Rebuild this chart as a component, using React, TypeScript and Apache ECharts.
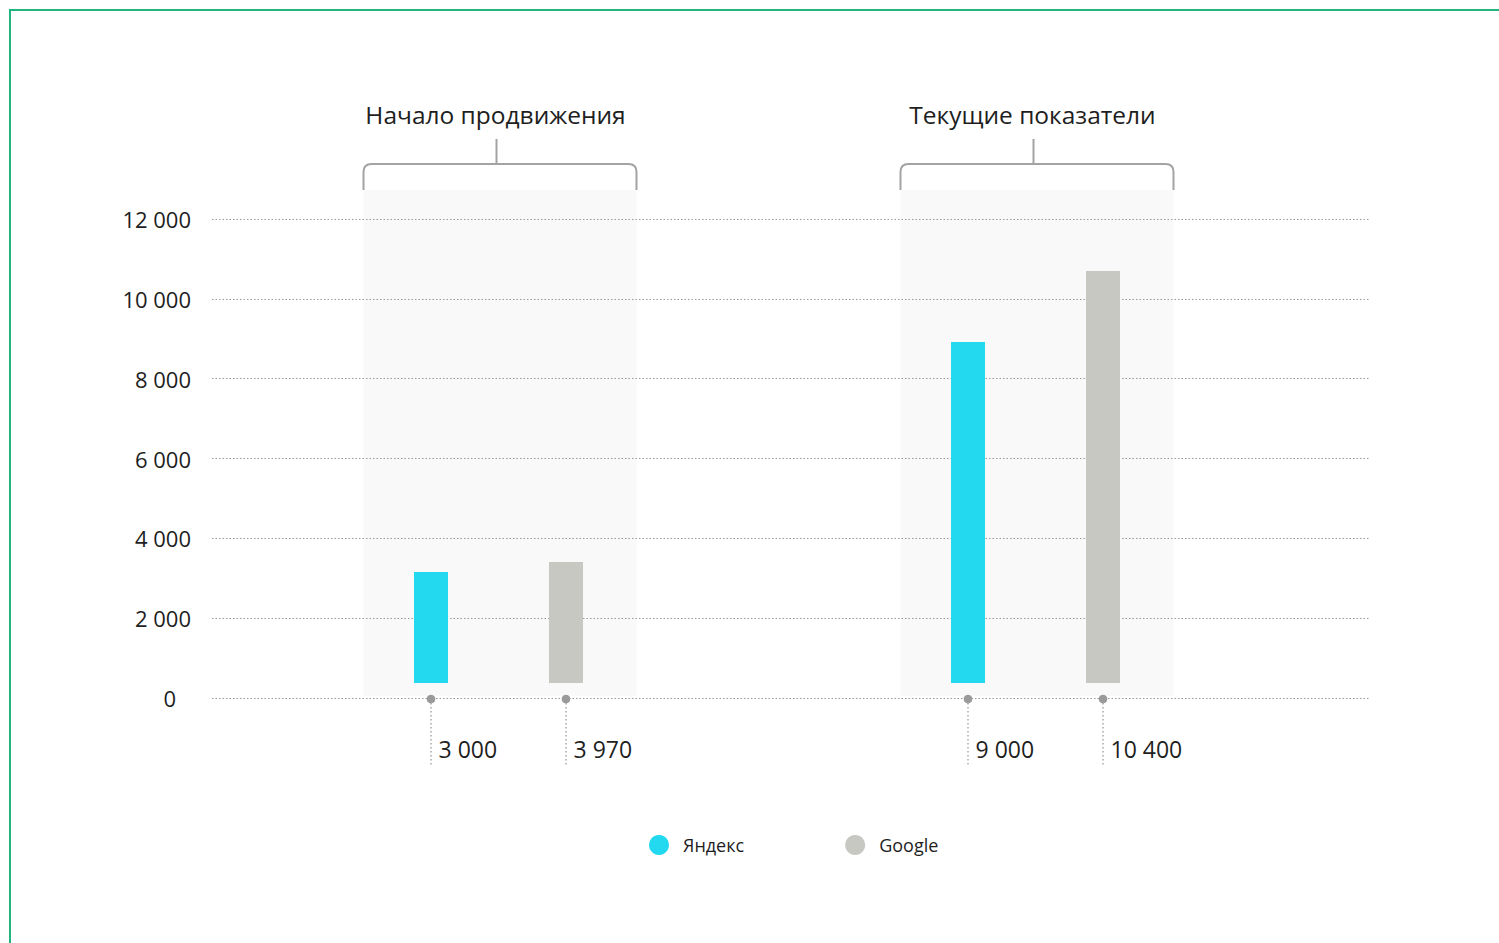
import React, { useEffect, useRef } from 'react';
import * as echarts from 'echarts';

// ---- data ----
const groups = ['Начало продвижения', 'Текущие показатели'];
const seriesNames = ['Яндекс', 'Google'];
// bar heights as drawn (bars start slightly above the zero line)
const yandexBars = [2780, 8540];
const googleBars = [3030, 10320];
// value captions printed under the bars
const yandexLabels = [3000, 9000];
const googleLabels = [3970, 10400];
// y axis
const Y_MIN = 0;
const Y_MAX = 12000;
const Y_STEP = 2000;

const COLORS = ['#23d9f0', '#c8c8c2'];
const FONT = '"Open Sans", sans-serif';

const fmt = (v: number) => String(v).replace(/\B(?=(\d{3})+(?!\d))/g, ' ');

export default function App() {
  const ref = useRef<HTMLDivElement>(null);

  useEffect(() => {
    if (!ref.current) return;
    const chart = echarts.init(ref.current, undefined, { renderer: 'svg' });

    const BAR_OFFSET = 67.5; // half distance between paired bars
    const BASE_SHIFT = 376; // bars start 15px above zero line

    const markData: number[][] = [];
    groups.forEach((_, i) => {
      markData.push([i, 0, yandexLabels[i]]);
      markData.push([i, 1, googleLabels[i]]);
    });

    const option: any = {
      animation: false,
      backgroundColor: '#ffffff',
      graphic: [
        {
          type: 'rect',
          shape: { x: 10, y: 10, width: 1600, height: 1100 },
          style: { fill: 'none', stroke: '#22b57f', lineWidth: 2 },
          silent: true,
        },
      ],
      legend: {
        data: seriesNames,
        icon: 'circle',
        itemWidth: 20,
        itemHeight: 20,
        itemGap: 101,
        left: 644,
        top: 830,
        textStyle: { fontSize: 18, color: '#1e1e1e', fontFamily: FONT, padding: [0, 0, 0, 9] },
      },
      grid: [
        { left: 212, right: 130, top: 219, bottom: 245 },
        { left: 230, right: 195, top: 219, bottom: 245 },
      ],
      xAxis: [
        { gridIndex: 0, type: 'value', show: false, min: 0, max: 1 },
        { gridIndex: 1, type: 'category', data: groups, show: false },
      ],
      yAxis: [
        {
          gridIndex: 0,
          type: 'value',
          min: Y_MIN,
          max: Y_MAX,
          interval: Y_STEP,
          axisLine: { show: false },
          axisTick: { show: false },
          axisLabel: {
            margin: 21,
            fontSize: 22,
            color: '#1e1e1e',
            fontFamily: FONT,
            formatter: (v: number) => (v === 0 ? '{z|0}' : fmt(v)),
            rich: { z: { fontSize: 22, color: '#1e1e1e', fontFamily: FONT, padding: [0, 15, 0, 0] } },
          },
          splitLine: { show: true, lineStyle: { color: '#999999', width: 1, type: [1.5, 2] } },
        },
        {
          gridIndex: 1,
          type: 'value',
          min: -BASE_SHIFT,
          max: Y_MAX - BASE_SHIFT,
          show: false,
        },
      ],
      series: [
        {
          type: 'custom',
          name: 'groups',
          xAxisIndex: 1,
          yAxisIndex: 1,
          z: -10,
          silent: true,
          clip: false,
          data: groups.map((_, i) => [i]),
          encode: { x: 0 },
          renderItem: (params: any, api: any) => {
            const idx = api.value(0);
            const cx = api.coord([idx, 0])[0] + 1.5;
            const cs = params.coordSys;
            const bottom = cs.y + cs.height - 2;
            const top = cs.y - 29;
            const hw = 136.5;
            const bt = top - 26;
            const r = 8;
            const d = `M${cx - hw} ${top} L${cx - hw} ${bt + r} Q${cx - hw} ${bt} ${cx - hw + r} ${bt} L${cx + hw - r} ${bt} Q${cx + hw} ${bt} ${cx + hw} ${bt + r} L${cx + hw} ${top}`;
            return {
              type: 'group',
              children: [
                {
                  type: 'rect',
                  shape: { x: cx - hw, y: top, width: 2 * hw, height: bottom - top },
                  style: { fill: '#f9f9f9' },
                },
                {
                  type: 'path',
                  shape: { pathData: d },
                  style: { stroke: '#a3a3a3', lineWidth: 2, fill: null },
                },
                {
                  type: 'line',
                  shape: { x1: cx - 3.5, y1: bt - 25, x2: cx - 3.5, y2: bt },
                  style: { stroke: '#a3a3a3', lineWidth: 2 },
                },
                {
                  type: 'text',
                  style: {
                    text: groups[idx],
                    x: cx - 4.5,
                    y: 114,
                    align: 'center',
                    verticalAlign: 'middle',
                    fontSize: 24.5,
                    fontFamily: FONT,
                    fill: '#1e1e1e',
                  },
                },
              ],
            };
          },
        },
        {
          type: 'bar',
          name: seriesNames[0],
          xAxisIndex: 1,
          yAxisIndex: 1,
          data: yandexBars,
          barWidth: 34,
          barGap: '297%',
          itemStyle: { color: COLORS[0] },
        },
        {
          type: 'bar',
          name: seriesNames[1],
          xAxisIndex: 1,
          yAxisIndex: 1,
          data: googleBars,
          barWidth: 34,
          barGap: '297%',
          itemStyle: { color: COLORS[1] },
        },
        {
          type: 'custom',
          name: 'marks',
          xAxisIndex: 1,
          yAxisIndex: 1,
          silent: true,
          clip: false,
          data: markData,
          encode: { x: 0 },
          renderItem: (params: any, api: any) => {
            const cat = api.value(0);
            const s = api.value(1);
            const label = api.value(2);
            const cx = api.coord([cat, 0])[0] + (s === 0 ? -BAR_OFFSET : BAR_OFFSET);
            const cs = params.coordSys;
            const y0 = cs.y + cs.height + 1;
            return {
              type: 'group',
              children: [
                {
                  type: 'line',
                  shape: { x1: cx, y1: y0, x2: cx, y2: y0 + 66 },
                  style: { stroke: '#9c9c9c', lineWidth: 1.3, lineDash: [1.5, 2.5] },
                },
                {
                  type: 'circle',
                  shape: { cx, cy: y0, r: 4.3 },
                  style: { fill: '#9a9a9a' },
                },
                {
                  type: 'text',
                  style: {
                    text: fmt(label),
                    x: cx + 7.5,
                    y: 749,
                    align: 'left',
                    verticalAlign: 'middle',
                    fontSize: 23,
                    fontFamily: FONT,
                    fill: '#1e1e1e',
                  },
                },
              ],
            };
          },
        },
      ],
    };

    chart.setOption(option);
    return () => chart.dispose();
  }, []);

  return (
    <div
      ref={ref}
      style={{ position: 'fixed', left: 0, top: 0, width: 1499, height: 943, background: '#fff' }}
    />
  );
}
